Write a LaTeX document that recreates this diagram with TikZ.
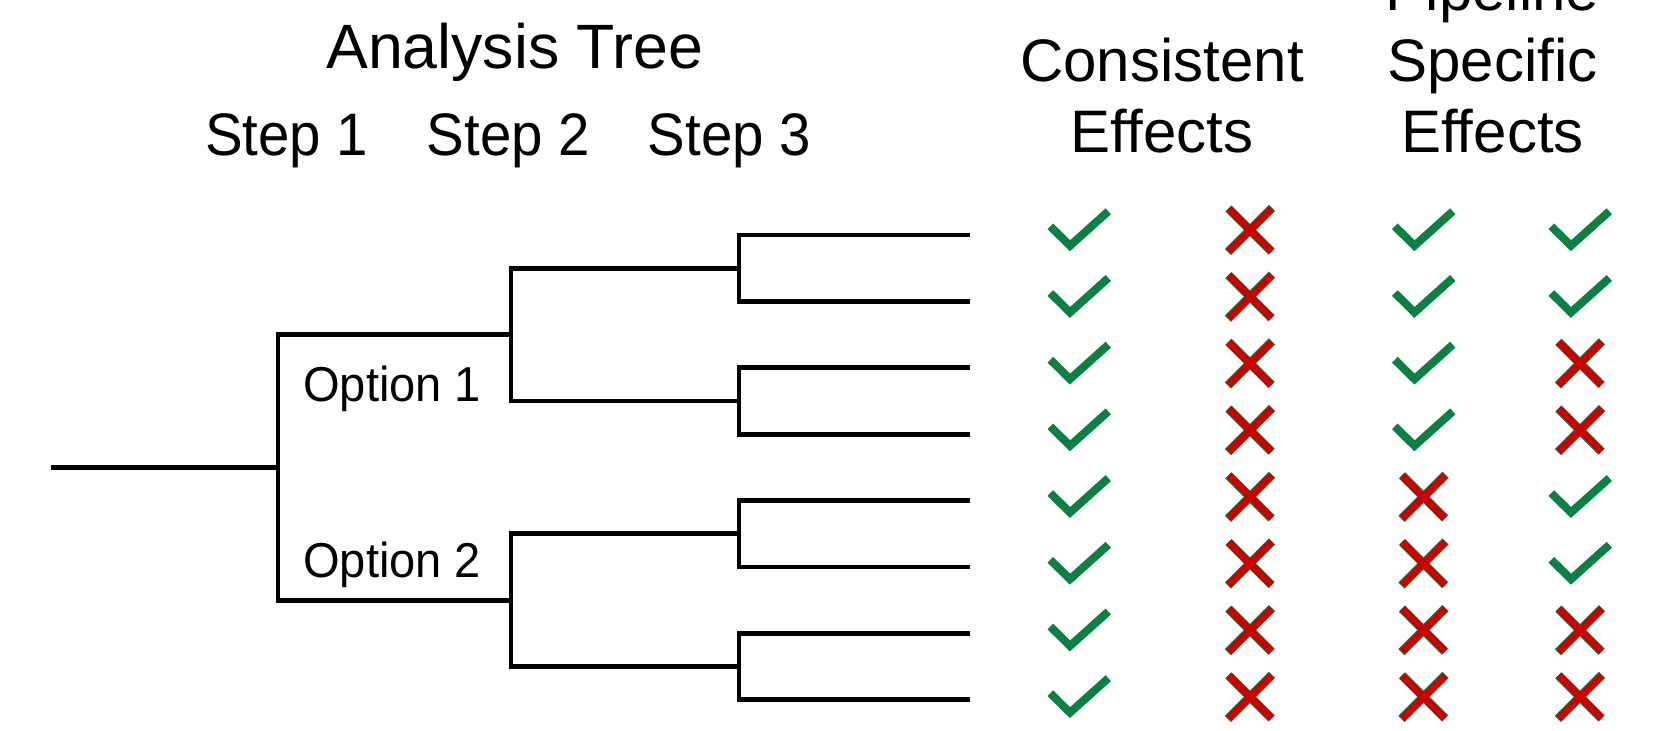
\documentclass[tikz,border=0pt]{standalone}
\usepackage{fontspec}
\setmainfont{Liberation Sans}
\newfontfamily\stepfont{Liberation Sans}[FakeStretch=0.94]
\newfontfamily\optfont{Liberation Sans}[FakeStretch=0.96]
\definecolor{okgreen}{HTML}{0B8043}
\definecolor{nored}{HTML}{CC0000}
\tikzset{
  tree/.style={line width=3.5pt, line join=miter, line cap=butt},
  bigtext/.style={inner sep=0pt, font=\fontsize{45}{54}\selectfont},
  steptext/.style={inner sep=0pt, font=\stepfont\fontsize{45}{54}\selectfont},
  titletext/.style={inner sep=0pt, font=\fontsize{47}{56}\selectfont},
  opttext/.style={inner sep=0pt, font=\optfont\fontsize{36.75}{44}\selectfont},
  chk/.pic={
    \draw[okgreen, line width=6pt, line cap=butt, line join=miter]
      (-28.7,-3.7) -- (-9,15.7) -- (29.3,-18.7);
  },
  crs/.pic={
    \draw[okgreen, line width=6.6pt, line cap=butt, shorten >=-0.6pt, shorten <=-0.6pt]
      (-21.5,-21.5) -- (21.5,21.5) (-21.5,21.5) -- (21.5,-21.5);
    \draw[nored, line width=5.2pt, line cap=butt]
      (-21.5,-21.5) -- (21.5,21.5) (-21.5,21.5) -- (21.5,-21.5);
  }
}
\begin{document}
\begin{tikzpicture}[x=0.75pt, y=-0.75pt]
\clip (0,0) rectangle (1660,731);
\fill[white] (0,0) rectangle (1660,731);

% headers
\node[titletext, anchor=base west] (title) at (326,69) {Analysis Tree};
\node[steptext, anchor=base west] (st1) at (205,156) {Step 1};
\node[steptext, anchor=base west] (st2) at (426.5,156) {Step 2};
\node[steptext, anchor=base west] (st3) at (647.5,156) {Step 3};
\node[bigtext, anchor=base] (ce1) at (1162,82) {Consistent};
\node[bigtext, anchor=base] (ce2) at (1162,153) {Effects};
\node[bigtext, anchor=base] (ps0) at (1492.5,11) {Pipeline};
\node[bigtext, anchor=base] (ps1) at (1492.5,82) {Specific};
\node[bigtext, anchor=base] (ps2) at (1492.5,153) {Effects};

% tree coordinates
\coordinate (r) at (51,467.4);
\coordinate (s1) at (278,467.4);
\coordinate (o1) at (278,334.6);
\coordinate (o2) at (278,600.2);
\coordinate (m1) at (511,334.6);
\coordinate (m2) at (511,600.2);
\foreach \i/\ya/\yb/\yc in {1/268.2/235/301.4, 2/401/367.8/434.2, 3/533.8/500.6/567, 4/666.6/633.4/699.8}{
  \coordinate (j\i) at (739,\ya);
  \coordinate (la\i) at (970,\yb);
  \coordinate (ca\i) at (739,\yb);
  \coordinate (lb\i) at (970,\yc);
  \coordinate (cb\i) at (739,\yc);
}
\coordinate (k1) at (511,268.2);
\coordinate (k2) at (511,401);
\coordinate (k3) at (511,533.8);
\coordinate (k4) at (511,666.6);

\draw[tree] (r) -- (s1);
\draw[tree] (m1) -- (o1) -- (o2) -- (m2);
\draw[tree] (j1) -- (k1) -- (k2) -- (j2);
\draw[tree] (j3) -- (k3) -- (k4) -- (j4);
\foreach \i in {1,...,4}{
  \draw[tree] (la\i) -- (ca\i) -- (cb\i) -- (lb\i);
}

\node[opttext, anchor=base west] (op1) at (303,401) {Option 1};
\node[opttext, anchor=base west] (op2) at (303,577) {Option 2};

% marks
\foreach \i in {0,...,7}{
  \pgfmathsetmacro{\yy}{230+66.7*\i}
  \pic at (1079,\yy) {chk};
  \pic at (1250,\yy) {crs};
}
\foreach \i in {0,...,3}{
  \pgfmathsetmacro{\yy}{230+66.7*\i}
  \pic at (1423.5,\yy) {chk};
}
\foreach \i in {4,...,7}{
  \pgfmathsetmacro{\yy}{230+66.7*\i}
  \pic at (1423.5,\yy) {crs};
}
\foreach \i in {0,1,4,5}{
  \pgfmathsetmacro{\yy}{230+66.7*\i}
  \pic at (1580,\yy) {chk};
}
\foreach \i in {2,3,6,7}{
  \pgfmathsetmacro{\yy}{230+66.7*\i}
  \pic at (1580,\yy) {crs};
}
\end{tikzpicture}
\end{document}
